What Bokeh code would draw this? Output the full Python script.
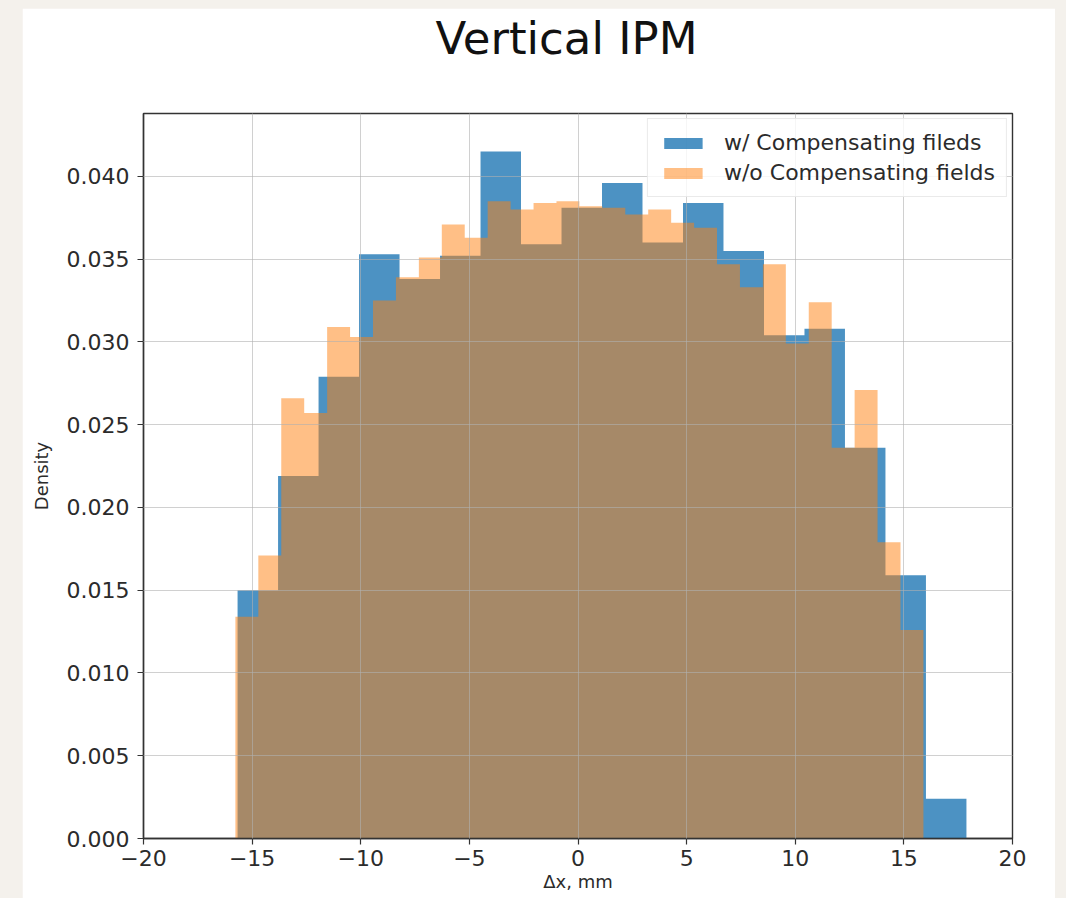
import numpy as np
from bokeh.plotting import figure
from bokeh.models import Range1d, FixedTicker, PrintfTickFormatter, Title
from bokeh.layouts import column
from bokeh.embed import file_html
from bokeh.resources import INLINE

# ---- text ----
title_text = "Vertical IPM"
x_label = "Δx, mm"
y_label = "Density"
with_label = "w/ Compensating fileds"
without_label = "w/o Compensating fields"

# ---- histogram with compensating fields: 18 bins over its data range ----
with_range = (-15.67, 17.88)
with_density = [
    0.0150, 0.0219, 0.0279, 0.0353, 0.0338, 0.0352, 0.0415, 0.0359, 0.0381,
    0.0396, 0.0360, 0.0384, 0.0355, 0.0304, 0.0308, 0.0236, 0.0159, 0.0024,
]

# ---- histogram without compensating fields: 30 bins over its data range ----
without_range = (-15.77, 15.90)
without_density = [
    0.0134, 0.0171, 0.0266, 0.0257, 0.0309, 0.0303, 0.0325, 0.0339, 0.0351,
    0.0371, 0.0363, 0.0385, 0.0380, 0.0384, 0.0385, 0.0382, 0.0381, 0.0377,
    0.0380, 0.0372, 0.0369, 0.0347, 0.0333, 0.0347, 0.0299, 0.0324, 0.0236,
    0.0271, 0.0179, 0.0126,
]

# ---- axes ----
x_ticks = [-20, -15, -10, -5, 0, 5, 10, 15, 20]
x_tick_labels = ["−20", "−15", "−10", "−5", "0", "5", "10", "15", "20"]
y_ticks = [0.000, 0.005, 0.010, 0.015, 0.020, 0.025, 0.030, 0.035, 0.040]
x_limits = (-20, 20)
y_limits = (0.0, 0.0438)

FONT = "DejaVu Sans"
TEXT = "#2b2b2b"
BLUE = "#1f77b4"
ORANGE = "#ff7f0e"


def step_outline(rng, density):
    """Bin edges plus densities padded for a step area drawn 'after' each edge."""
    edges = np.linspace(rng[0], rng[1], len(density) + 1)
    heights = list(density) + [density[-1]]
    return edges, heights


p = figure(
    width=1033, height=890,
    x_range=Range1d(*x_limits), y_range=Range1d(*y_limits),
    output_backend="svg", toolbar_location=None,
    min_border_left=121, min_border_right=43,
    min_border_top=105, min_border_bottom=60,
    background_fill_color="white", border_fill_color="white",
)
p.margin = (8, 11, 0, 22)
p.title.text = ""

# blank spacer between the frame and the title, then the title itself on top
p.add_layout(Title(text=" ", text_font=FONT, text_font_size="20px",
                   standoff=23), "above")
p.add_layout(Title(text=title_text, align="left", offset=292,
                   text_font=FONT, text_font_size="45px",
                   text_font_style="normal", text_color="#111111",
                   standoff=0), "above")

# histograms as single step areas (no seams between bins)
x1, h1 = step_outline(with_range, with_density)
p.varea_step(x=x1, y1=0, y2=h1, step_mode="after",
             fill_color=BLUE, fill_alpha=0.8, legend_label=with_label)

x2, h2 = step_outline(without_range, without_density)
p.varea_step(x=x2, y1=0, y2=h2, step_mode="after",
             fill_color=ORANGE, fill_alpha=0.5, legend_label=without_label)

# grid drawn above the bars
for g in (p.xgrid, p.ygrid):
    g.grid_line_color = "#b0b0b0"
    g.grid_line_alpha = 0.6
    g.grid_line_width = 1
    g.level = "annotation"
p.xgrid.ticker = FixedTicker(ticks=x_ticks)
p.ygrid.ticker = FixedTicker(ticks=y_ticks)

# axes
p.xaxis.ticker = FixedTicker(ticks=x_ticks)
p.xaxis.major_label_overrides = {t: s for t, s in zip(x_ticks, x_tick_labels)}
p.yaxis.ticker = FixedTicker(ticks=y_ticks)
p.yaxis.formatter = PrintfTickFormatter(format="%.3f")
p.xaxis.axis_label = x_label
p.yaxis.axis_label = y_label

for ax in (p.xaxis, p.yaxis):
    ax.axis_line_color = "#333333"
    ax.axis_line_width = 1.4
    ax.major_tick_line_color = "#333333"
    ax.major_tick_line_width = 1.2
    ax.major_tick_out = 6
    ax.major_tick_in = 0
    ax.minor_tick_line_color = None
    ax.major_label_text_font = FONT
    ax.major_label_text_font_size = "22px"
    ax.major_label_text_color = TEXT
    ax.axis_label_text_font = FONT
    ax.axis_label_text_font_size = "18px"
    ax.axis_label_text_font_style = "normal"
    ax.axis_label_text_color = TEXT
p.xaxis.major_label_standoff = 5
p.yaxis.major_label_standoff = 8
p.xaxis.axis_label_standoff = 2
p.yaxis.axis_label_standoff = 12

p.outline_line_color = "#333333"
p.outline_line_width = 1.4

# legend
lg = p.legend[0]
lg.location = "top_right"
lg.margin = 5
lg.padding = 11
lg.spacing = 5
lg.glyph_width = 48
lg.glyph_height = 14
lg.label_standoff = 17
lg.label_text_font = FONT
lg.label_text_font_size = "22px"
lg.label_text_color = TEXT
lg.border_line_color = "#d5d5d5"
lg.border_line_width = 1
lg.background_fill_alpha = 0.8

page = column(p, styles={"background-color": "#f4f1ec"})

open("out.html", "w").write(file_html(page, INLINE))
